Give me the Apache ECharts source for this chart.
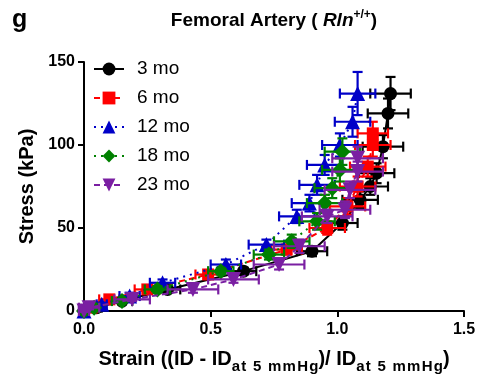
<!DOCTYPE html>
<html><head><meta charset="utf-8">
<script src="https://cdn.jsdelivr.net/npm/echarts@6/dist/echarts.min.js"></script>
<style>html,body{margin:0;padding:0;background:#fff}#c{width:482px;height:379px}</style>
</head><body><div id="c"></div>
<script>
// ---- data ----
const seriesNames = ['3 mo', '6 mo', '12 mo', '18 mo', '23 mo'];
const xTicks = [0.0, 0.5, 1.0, 1.5];
const yTicks = [0, 50, 100, 150];

const strain3 = [0, 0.05, 0.15, 0.33, 0.63, 0.90, 1.02, 1.09, 1.13, 1.155, 1.18, 1.20, 1.21];
const stress3 = [0, 2, 6, 13, 24, 36, 53, 67, 75, 83, 99, 119, 131];
const strainErr3 = [0.01, 0.02, 0.04, 0.05, 0.05, 0.06, 0.06, 0.07, 0.07, 0.07, 0.08, 0.08, 0.08];
const stressErr3 = [0.5, 1, 1, 2, 2, 3, 4, 5, 5, 6, 7, 9, 10];

const strain6 = [0, 0.03, 0.10, 0.25, 0.49, 0.80, 0.96, 1.04, 1.08, 1.12, 1.14, 1.14];
const stress6 = [0, 2, 7, 13, 22, 37, 50, 63, 75, 87, 100, 107];
const strainErr6 = [0.01, 0.02, 0.04, 0.05, 0.05, 0.06, 0.07, 0.07, 0.07, 0.07, 0.07, 0.06];
const stressErr6 = [0.5, 1, 1, 2, 2, 3, 4, 5, 6, 6, 7, 7];

const strain12 = [0, 0.07, 0.18, 0.31, 0.56, 0.72, 0.84, 0.89, 0.92, 0.95, 1.01, 1.06, 1.08];
const stress12 = [0, 4, 9, 17, 28, 40, 57, 65, 76, 88, 100, 114, 131];
const strainErr12 = [0.01, 0.02, 0.04, 0.05, 0.06, 0.07, 0.07, 0.07, 0.07, 0.07, 0.07, 0.07, 0.07];
const stressErr12 = [0.5, 1, 2, 2, 3, 3, 4, 5, 6, 6, 7, 9, 13];

const strain18 = [0, 0.04, 0.15, 0.29, 0.54, 0.73, 0.82, 0.92, 0.95, 0.98, 1.01, 1.02];
const stress18 = [0, 2, 6, 13, 24, 34, 42, 54, 65, 74, 85, 96];
const strainErr18 = [0.01, 0.02, 0.04, 0.05, 0.05, 0.06, 0.07, 0.07, 0.07, 0.07, 0.07, 0.07];
const stressErr18 = [0.5, 1, 1, 2, 2, 3, 4, 5, 5, 6, 7, 8];

const strain23 = [0, 0.02, 0.19, 0.43, 0.59, 0.77, 0.85, 0.96, 1.03, 1.05, 1.08, 1.08];
const stress23 = [0, 2, 7, 13, 19, 28, 39, 57, 61, 73, 84, 92];
const strainErr23 = [0.02, 0.04, 0.07, 0.10, 0.10, 0.10, 0.10, 0.10, 0.10, 0.10, 0.10, 0.10];
const stressErr23 = [0.5, 1, 1, 2, 2, 3, 4, 4, 5, 5, 6, 7];

// ---- styles ----
const groups = [
  {x: strain3, y: stress3, ex: strainErr3, ey: stressErr3, color: '#000000', symbol: 'circle', size: 13, dash: 'solid'},
  {x: strain6, y: stress6, ex: strainErr6, ey: stressErr6, color: '#ff0000', symbol: 'rect', size: 12, dash: [6, 4]},
  {x: strain12, y: stress12, ex: strainErr12, ey: stressErr12, color: '#0000c8', symbol: 'triangle', size: 15, dash: [2, 5]},
  {x: strain18, y: stress18, ex: strainErr18, ey: stressErr18, color: '#008000', symbol: 'diamond', size: 16, dash: [2, 5]},
  {x: strain23, y: stress23, ex: strainErr23, ey: stressErr23, color: '#7a1fa2', symbol: 'path://M0,0 L10,0 L5,9 Z', size: 15, dash: [6, 4]}
];

const font = '"Liberation Sans", Arial, Helvetica, sans-serif';
const HS = '\u200A'; // hair space, mimics the loose letter spacing of the subscripts
const subText = ['a', 't', ' ', '5', ' ', 'm', 'm', 'H', 'g'].join(HS);

function errRenderer(color) {
  return function (params, api) {
    const x = api.value(0), y = api.value(1), ex = api.value(2), ey = api.value(3);
    const l = api.coord([x - ex, y]), r = api.coord([x + ex, y]);
    const t = api.coord([x, y + ey]), b = api.coord([x, y - ey]);
    const cap = 5;
    const st = {stroke: color, lineWidth: 2.2};
    return {type: 'group', children: [
      {type: 'line', shape: {x1: l[0], y1: l[1], x2: r[0], y2: r[1]}, style: st},
      {type: 'line', shape: {x1: l[0], y1: l[1] - cap, x2: l[0], y2: l[1] + cap}, style: st},
      {type: 'line', shape: {x1: r[0], y1: r[1] - cap, x2: r[0], y2: r[1] + cap}, style: st},
      {type: 'line', shape: {x1: t[0], y1: t[1], x2: b[0], y2: b[1]}, style: st},
      {type: 'line', shape: {x1: t[0] - cap, y1: t[1], x2: t[0] + cap, y2: t[1]}, style: st},
      {type: 'line', shape: {x1: b[0] - cap, y1: b[1], x2: b[0] + cap, y2: b[1]}, style: st}
    ]};
  };
}

const series = [];
groups.forEach((g, i) => {
  const d = g.x.map((v, k) => [v, g.y[k], g.ex[k], g.ey[k]]);
  series.push({
    type: 'custom', name: seriesNames[i] + ' SEM', renderItem: errRenderer(g.color),
    itemStyle: {color: g.color},
    data: d, encode: {x: 0, y: 1}, z: 2 + i * 2, clip: false, silent: true
  });
  series.push({
    type: 'line', name: seriesNames[i], data: g.x.map((v, k) => [v, g.y[k]]),
    symbol: g.symbol, symbolSize: g.size, showSymbol: true, showAllSymbol: true,
    itemStyle: {color: g.color}, lineStyle: {color: g.color, width: 2, type: g.dash},
    z: 3 + i * 2, animation: false
  });
});

const chart = echarts.init(document.getElementById('c'), null, {renderer: 'canvas'});
chart.setOption({
  animation: false,
  grid: {left: 84, right: 18, top: 62, bottom: 67},
  graphic: [
    {type: 'text', left: 12, top: 8, style: {text: 'g', font: 'bold 25px ' + font, fill: '#000'}},
    {type: 'text', x: 274, y: 9, style: {
      text: '{b|Femoral Artery ( }{i|Rln}{s|+/+}{b|)}', align: 'center',
      rich: {
        b: {fontFamily: font, fontWeight: 'bold', fontSize: 19, color: '#000'},
        i: {fontFamily: font, fontWeight: 'bold', fontStyle: 'italic', fontSize: 19, color: '#000'},
        s: {fontFamily: font, fontWeight: 'bold', fontSize: 12, color: '#000', padding: [0, 0, 11, 0]}
      }
    }}
  ],
  legend: {
    orient: 'vertical', left: 88, top: 54, itemWidth: 30, itemHeight: 16, itemGap: 9,
    data: seriesNames.map(n => ({name: n})),
    textStyle: {fontFamily: font, fontSize: 19, lineHeight: 20, color: '#000', padding: [0, 0, 0, 8]}
  },
  xAxis: {
    type: 'value', min: 0, max: 1.5, interval: 0.5,
    axisLine: {lineStyle: {color: '#000', width: 2}},
    axisTick: {show: true, length: 6, lineStyle: {color: '#000', width: 2}},
    splitLine: {show: false},
    axisLabel: {margin: 11, fontFamily: font, fontWeight: 'bold', fontSize: 16, color: '#000',
      formatter: v => xTicks.includes(v) ? v.toFixed(1) : ''},
    name: '{m|Strain ((ID - ID}{s|' + subText + '}{m|)/ ID}{s|' + subText + '}{m|)}',
    nameLocation: 'middle', nameGap: 34,
    nameTextStyle: {rich: {
      m: {fontFamily: font, fontWeight: 'bold', fontSize: 20, color: '#000'},
      s: {fontFamily: font, fontWeight: 'bold', fontSize: 15, color: '#000', padding: [14, 0, 0, 0]}
    }}
  },
  yAxis: {
    type: 'value', min: 0, max: 150, interval: 50,
    axisLine: {show: true, lineStyle: {color: '#000', width: 2}},
    axisTick: {show: true, length: 6, lineStyle: {color: '#000', width: 2}},
    splitLine: {show: false},
    axisLabel: {margin: 9, fontFamily: font, fontWeight: 'bold', fontSize: 16, color: '#000',
      formatter: v => yTicks.includes(v) ? String(v) : ''},
    name: 'Stress (kPa)', nameLocation: 'middle', nameGap: 46,
    nameTextStyle: {fontFamily: font, fontWeight: 'bold', fontSize: 20, color: '#000'}
  },
  series: series
});
</script></body></html>
